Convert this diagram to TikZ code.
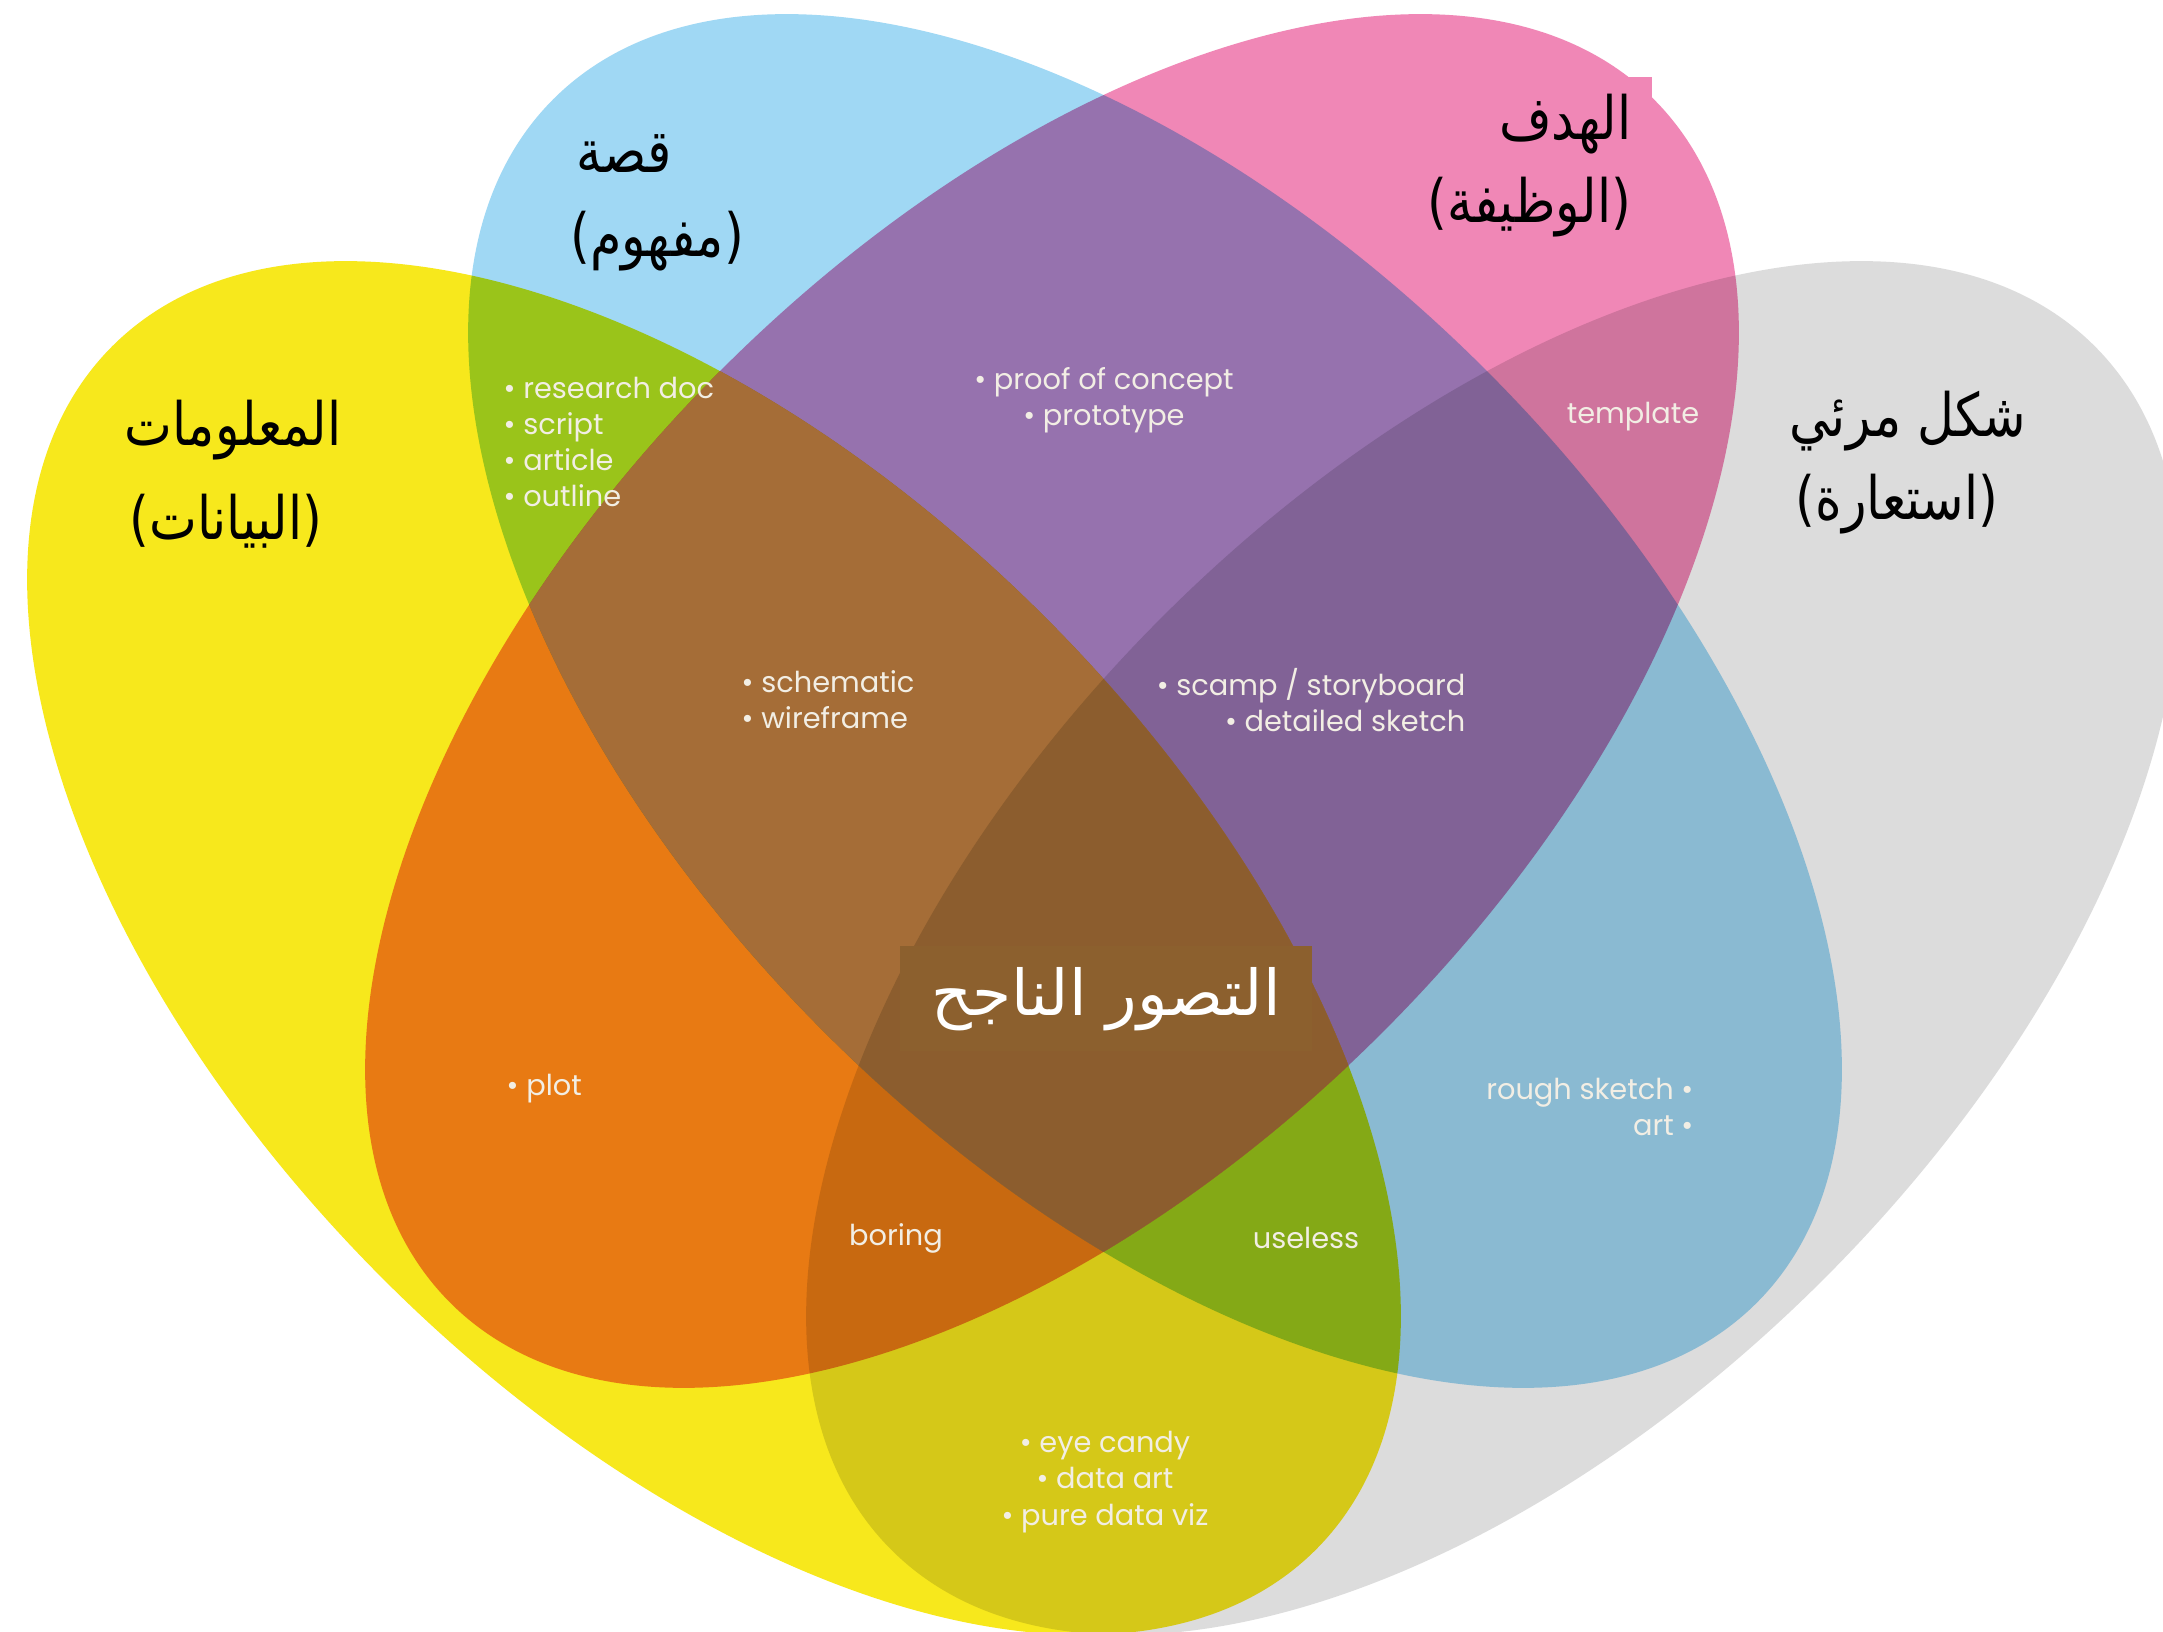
\documentclass[tikz,border=0pt]{standalone}
\usepackage{fontspec}
\newfontfamily\arabicfont[Script=Arabic, FakeStretch=0.85]{DejaVu Sans}
\newfontfamily\vizfont[Script=Arabic]{DejaVu Sans}
\newfontfamily\itemfont{Poppins}
\TeXXeTstate=1

\definecolor{infoyellow}{RGB}{247,232,28}
\definecolor{storyblue}{RGB}{160,216,244}
\definecolor{goalpink}{RGB}{240,135,182}
\definecolor{formgray}{RGB}{220,220,220}
\definecolor{threebrown}{RGB}{165,109,55}
\definecolor{fourbrown}{RGB}{140,93,46}
\definecolor{centerbrown}{RGB}{140,96,46}
\definecolor{itemwhite}{RGB}{242,238,228}

\tikzset{infoset/.style={rotate around={-45:(7.14,6.83)}},
         storyset/.style={rotate around={-45:(11.55,9.30)}},
         goalset/.style={rotate around={45:(10.52,9.30)}},
         formset/.style={rotate around={45:(14.93,6.83)}},
         setname/.style={font=\arabicfont\fontsize{17}{21}\selectfont,
                         text=black, inner sep=0pt},
         item/.style={font=\itemfont\fontsize{8.2}{10.3}\selectfont,
                      text=itemwhite, inner sep=0pt}}

\begin{document}
\begin{tikzpicture}[x=1cm,y=1cm]
  \clip (0,0) rectangle (21.63,16.31);
  \fill[white] (0,0) rectangle (21.63,16.31);

  % the four sets
  \begin{scope}[blend mode=multiply]
    \fill[infoyellow, infoset] (7.14,6.83)  ellipse (8.51 and 4.68);
    \fill[storyblue, storyset] (11.55,9.30) ellipse (8.51 and 4.68);
    \fill[goalpink, goalset]   (10.52,9.30) ellipse (8.51 and 4.68);
    \fill[formgray, formset]   (14.93,6.83) ellipse (8.51 and 4.68);
  \end{scope}
  % warmer browns where yellow, blue and pink meet
  \begin{scope}
    \clip[infoset]  (7.14,6.83)  ellipse (8.51 and 4.68);
    \clip[storyset] (11.55,9.30) ellipse (8.51 and 4.68);
    \fill[threebrown, goalset] (10.52,9.30) ellipse (8.51 and 4.68);
    \clip[goalset] (10.52,9.30) ellipse (8.51 and 4.68);
    \fill[fourbrown, formset] (14.93,6.83) ellipse (8.51 and 4.68);
  \end{scope}
  \fill[goalpink] (15.00,14.90) rectangle (16.52,15.54);

  % set names
  \node[setname] (info)   at (2.33,12.01)  {\beginR المعلومات\endR};
  \node[setname] (info2)  at (2.26,11.10)  {\beginR(البيانات)\endR};
  \node[setname] (story)  at (6.24,14.77)  {\beginR قصة\endR};
  \node[setname] (story2) at (6.57,13.90)  {\beginR(مفهوم)\endR};
  \node[setname, anchor=east] (goal)  at (16.32,15.07) {\beginR الهدف\endR};
  \node[setname, anchor=east] (goal2) at (16.32,14.24) {\beginR(الوظيفة)\endR};
  \node[setname] (form)   at (19.08,12.10) {\beginR شكل مرئي\endR};
  \node[setname] (form2)  at (18.97,11.27) {\beginR(استعارة)\endR};

  % overlaps
  \node[item, anchor=west, align=left]  (docs)    at (5.03,11.89)
    {\textbullet{} research doc\\\textbullet{} script\\\textbullet{} article\\\textbullet{} outline};
  \node[item, align=center]             (proto)   at (11.04,12.31)
    {\textbullet{} proof of concept\\\textbullet{} prototype};
  \node[item]                           (tmpl)    at (16.33,12.14) {template};
  \node[item, anchor=west, align=left]  (schema)  at (7.41,9.31)
    {\textbullet{} schematic\\\textbullet{} wireframe};
  \node[item, anchor=east, align=right] (sketch)  at (14.66,9.31)
    {\textbullet{} scamp / storyboard\\\textbullet{} detailed sketch};
  \node[item, anchor=west]              (plot)    at (5.06,5.42) {\textbullet{} plot};
  \node[item, anchor=east, align=right] (rough)   at (16.94,5.24)
    {rough sketch \textbullet\\art \textbullet};
  \node[item]                           (boring)  at (8.96,3.93) {boring};
  \node[item]                           (useless) at (13.06,3.93) {useless};
  \node[item, align=center]             (candy)   at (11.05,1.49)
    {\textbullet{} eye candy\\\textbullet{} data art\\\textbullet{} pure data viz};

  % the middle
  \node[fill=centerbrown, minimum width=4.12cm, minimum height=1.05cm,
        font=\vizfont\fontsize{18}{22}\selectfont, text=white]
    (goodviz) at (11.06,6.32) {\beginR التصور الناجح\endR};
\end{tikzpicture}
\end{document}
